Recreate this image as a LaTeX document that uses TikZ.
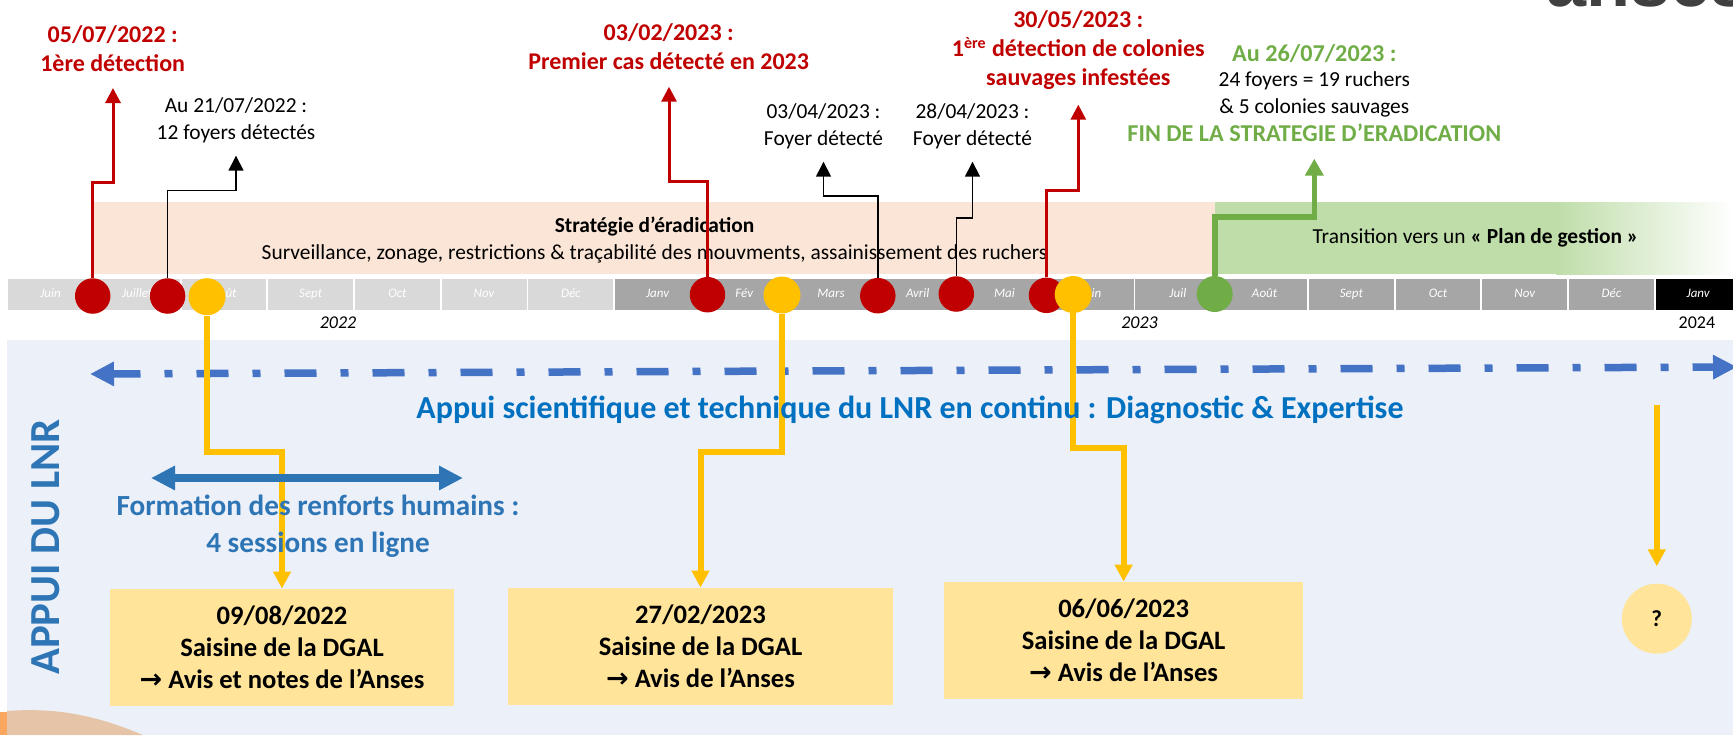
\documentclass[tikz,border=0pt]{standalone}
\usepackage{fontspec}
\setmainfont{Carlito}
\newfontfamily\logofont{Liberation Sans}
\newfontfamily\arrowfont{DejaVu Sans}
\usetikzlibrary{arrows.meta, calc, positioning}
\definecolor{redMark}{HTML}{C00000}
\definecolor{greenMark}{HTML}{70AD47}
\definecolor{yellowMark}{HTML}{FFC000}
\definecolor{bluePanel}{HTML}{ECF0F9}
\definecolor{blueDash}{HTML}{4472C4}
\definecolor{blueForm}{HTML}{2E75B6}
\definecolor{blueLnr}{HTML}{0070C0}
\definecolor{bandPeach}{HTML}{FBE5D6}
\definecolor{bandGreen}{HTML}{BFDDA9}
\definecolor{boxYellow}{HTML}{FFE499}
\definecolor{barLight}{HTML}{D9D9D9}
\definecolor{barDark}{HTML}{A6A6A6}
\definecolor{arcPeach}{HTML}{E6C4A8}
\definecolor{stripOrange}{HTML}{F9A75F}
\tikzset{
    markRed/.style={circle, fill=redMark, inner sep=0pt, minimum size=17.75pt},
    markYellow/.style={circle, fill=yellowMark, inner sep=0pt, minimum size=18.5pt},
    markGreen/.style={circle, fill=greenMark, inner sep=0pt, minimum size=18pt},
    monthCell/.style={rectangle, inner sep=0pt, minimum width=42.4pt, minimum height=15.5pt, text=white, text height=4.6pt, text depth=1.4pt, font=\fontsize{6.5}{7}\itshape\selectfont},
    edgeRed/.style={->, >={Triangle[length=7.5pt, width=7.5pt]}, draw=redMark, line width=1.5pt},
    edgeBlack/.style={->, >={Triangle[length=7.5pt, width=7.5pt]}, draw=black, line width=0.75pt},
    edgeGreen/.style={->, >={Triangle[length=8.5pt, width=9pt]}, draw=greenMark, line width=2.8pt},
    edgeYellow/.style={->, >={Triangle[length=8.5pt, width=8.5pt]}, draw=yellowMark, line width=3pt},
    txtRed/.style={align=center, inner sep=0pt, text=redMark, font=\fontsize{12}{14.5}\bfseries\selectfont},
    txtPlain/.style={align=center, inner sep=0pt, font=\fontsize{10.7}{13.5}\selectfont},
    txtGreen/.style={align=center, inner sep=0pt, text=greenMark, font=\fontsize{12.1}{13}\bfseries\selectfont},
    txtForm/.style={align=center, inner sep=0pt, text=blueForm, font=\fontsize{14.6}{18.5}\bfseries\selectfont},
    saisineBox/.style={rectangle, fill=boxYellow, inner sep=0pt, align=center, font=\fontsize{13.3}{16}\bfseries\selectfont},
}
\newcommand{\drawElbow}[4][edgeRed]{
    \draw[#1] (#2) -- (#2 |- 0,#3) -- (#4 |- 0,#3) -- (#4);
}
\newcommand{\toArrow}{{\arrowfont\fontsize{13.5}{16}\bfseries\selectfont →}}
\begin{document}
\begin{tikzpicture}[x=0.5pt, y=-0.5pt]
        \useasboundingbox (0,0) rectangle (1733,735);

        % logo, cut by the top edge
        \begin{scope}
            \clip (0,0) rectangle (1733,735);
            \node[anchor=base west, inner sep=0pt, text=black!75, font=\logofont\fontsize{36}{36}\bfseries\selectfont] (logo) at (1546,6.5) {anses};
        \end{scope}

        % lower panel
        \fill[bluePanel] (7,340) rectangle (1733,735);
        \fill[stripOrange] (0,712) rectangle (7,735);
        \fill[arcPeach] (7,711) .. controls (60,707) and (100,717) .. (143,735) -- (7,735) -- cycle;

        % bands
        \fill[bandPeach] (92.7,202) rectangle (1214.7,274);
        \fill[bandGreen] (1214.7,202) rectangle (1556,274);
        \begin{scope}
            \clip (1555,202) rectangle (1733,274);
            \shade[left color=bandGreen, right color=white] (1556,190) rectangle (1733,286);
        \end{scope}
        \node[txtPlain] (eradication) at (654.5,240) {\textbf{Stratégie d’éradication}\\Surveillance, zonage, restrictions \& traçabilité des mouvments, assainissement des ruchers};
        \node[txtPlain] (transition) at (1475.5,237.7) {Transition vers un \textbf{« Plan de gestion »}};

        % months
        \foreach \m [count=\i from 0] in {Juin,Juillet,Août,Sept,Oct,Nov,Déc}
            \node[monthCell, fill=barLight] (a\i) at ({50.5+86.72*\i},294.5) {\m};
        \foreach \m [count=\i from 7] in {Janv,Fév,Mars,Avril,Mai,Juin,Juil,Août,Sept,Oct,Nov,Déc}
            \node[monthCell, fill=barDark] (b\i) at ({50.5+86.72*\i},294.5) {\m};
        \node[monthCell, fill=black] (c19) at ({50.5+86.72*19},294.5) {Janv};

        \node[font=\fontsize{9}{11}\itshape\selectfont, inner sep=0pt] (y22) at (338,323) {2022};
        \node[font=\fontsize{9}{11}\itshape\selectfont, inner sep=0pt] (y23) at (1139.5,323) {2023};
        \node[font=\fontsize{9}{11}\selectfont, inner sep=0pt] (y24) at (1696.9,323) {2024};

        % detections
        \node[markRed] (R1) at (92.7,296) {};
        \node[markRed] (R2) at (167.6,296) {};
        \node[markRed] (R3) at (707.5,294.7) {};
        \node[markRed] (R4) at (877.8,295.7) {};
        \node[markRed] (R5) at (956.3,294) {};
        \node[markRed] (R6) at (1046.5,295.3) {};
        \node[markGreen] (G1) at (1214.7,294) {};
        \node[markYellow] (Y1) at (207,296.7) {};
        \node[markYellow] (Y2) at (782,295) {};
        \node[markYellow] (Y3) at (1073.2,294.5) {};

        % top labels
        \node[txtRed] (t1) at (112.7,48.5) {05/07/2022 :\\1ère détection};
        \node[txtPlain] (t2) at (236,120.7) {Au 21/07/2022 :\\12 foyers détectés};
        \node[txtRed] (t3) at (668.7,47) {03/02/2023 :\\Premier cas détecté en 2023};
        \node[txtPlain] (t4) at (823.5,126.5) {03/04/2023 :\\Foyer détecté};
        \node[txtPlain] (t5) at (972.5,126.5) {28/04/2023 :\\Foyer détecté};
        \node[txtRed] (t6) at (1078.3,50.5) {30/05/2023 :\\1\textsuperscript{ère} détection de colonies\\sauvages infestées};
        \node[txtGreen] (t7a) at (1314.3,53.7) {Au 26/07/2023 :};
        \node[txtPlain] (t7b) at (1314.3,94.8) {24 foyers = 19 ruchers\\\& 5 colonies sauvages};
        \node[txtGreen] (t7c) at (1314.3,132.7) {FIN DE LA STRATEGIE D’ERADICATION};

        \coordinate (tipR1) at (113,88);
        \coordinate (tipR2) at (236,155.7);
        \coordinate (tipR3) at (669,86.7);
        \coordinate (tipR4) at (823.5,161.7);
        \coordinate (tipR5) at (972.5,161.7);
        \coordinate (tipR6) at (1078.3,104.7);
        \coordinate (tipG1) at (1314.3,158.7);

        \drawElbow{R1.north}{182.7}{tipR1}
        \drawElbow[edgeBlack]{R2.north}{190.7}{tipR2}
        \drawElbow{R3.north}{181}{tipR3}
        \drawElbow[edgeBlack]{R4.north}{196}{tipR4}
        \drawElbow[edgeBlack]{R5.north}{218}{tipR5}
        \drawElbow{R6.north}{190.7}{tipR6}
        \drawElbow[edgeGreen]{G1.north}{216.7}{tipG1}

        % dash-dot line of the panel
        \coordinate (lnrL) at (90,374);
        \coordinate (lnrR) at (1737,367);
        \draw[{Triangle[length=12pt, width=11.5pt]}-{Triangle[length=12pt, width=11.5pt]}, draw=blueDash, line width=3.75pt, dash pattern=on 16pt off 12pt on 4pt off 12pt, dash phase=2pt] (lnrL) -- (lnrR);

        % saisines
        \node[saisineBox, minimum width=172pt, minimum height=58.35pt] (B1) at (282,647.3) {09/08/2022\\Saisine de la DGAL\\\toArrow{} Avis et notes de l’Anses};
        \node[saisineBox, minimum width=192.5pt, minimum height=58.35pt] (B2) at (700.5,646.3) {27/02/2023\\Saisine de la DGAL\\\toArrow{} Avis de l’Anses};
        \node[saisineBox, minimum width=179.6pt, minimum height=58.5pt] (B3) at (1123.6,640.5) {06/06/2023\\Saisine de la DGAL\\\toArrow{} Avis de l’Anses};
        \node[saisineBox, circle, minimum size=35pt, font=\fontsize{11.5}{14}\bfseries\selectfont] (B4) at (1656.8,618.7) {?};
        \coordinate (qStart) at (1656.8,405.3);

        \drawElbow[edgeYellow]{Y1.south}{451.7}{B1.north}
        \drawElbow[edgeYellow]{Y2.south}{451.7}{B2.north}
        \drawElbow[edgeYellow]{Y3.south}{447.7}{B3.north}
        \draw[edgeYellow, shorten >=8.5pt] (qStart) -- (B4.north);

        % formation
        \coordinate (formL) at (151,478);
        \coordinate (formR) at (463,478);
        \draw[{Triangle[length=12pt, width=11.5pt]}-{Triangle[length=12pt, width=11.5pt]}, draw=blueForm, line width=3.75pt] (formL) -- (formR);
        \node[txtForm] (form) at (318,526.5) {Formation des renforts humains :\\4 sessions en ligne};

        \node[inner sep=0pt, text=blueLnr, font=\fontsize{16}{19}\bfseries\selectfont] (lnr) at (910,409.7) {Appui scientifique et technique du LNR en continu : Diagnostic \& Expertise};
        \node[rotate=90, inner sep=0pt, text=blueForm, font=\fontsize{21.4}{24}\bfseries\selectfont] (appui) at (45.3,547) {APPUI DU LNR};

    \end{tikzpicture}
\end{document}
